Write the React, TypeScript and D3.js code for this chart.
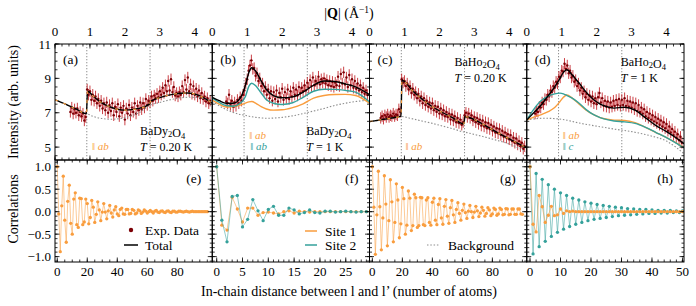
import React from "react";
import * as d3 from "d3";

const FONT = "'Liberation Serif', 'Times New Roman', serif";
const ORANGE = "#f99d3e";
const TEAL = "#35a19b";
const RED = "#7c0006";
const RED_BAR = "#bf161d";
const GRAY = "#8e8e8e";

const LEFT = 55;
const PW = 157.25;
const TOP0 = 44;
const MID = 160;
const BOT1 = 262;

// measured intensities, one value every 0.04 Å^-1
const Q_STEP = 0.04;

// (a) BaDy2O4, T = 0.20 K
const qStartA = 0.44;
const expA = [
  7.05, 7.3, 6.95, 7.2, 7.0, 7.25, 6.85, 7.05, 6.8, 6.95,
  6.55, 6.75, 8.35, 8.05, 8.25, 7.75, 8.05, 7.7, 7.95, 7.55,
  7.8, 7.4, 7.7, 7.25, 7.55, 7.15, 7.6, 7.0, 7.45, 7.1,
  7.55, 6.85, 7.35, 7.05, 7.5, 6.8, 7.3, 7.0, 7.4, 6.6,
  7.25, 6.95, 7.45, 6.85, 7.3, 7.05, 7.55, 6.95, 7.4, 7.15,
  7.6, 7.2, 7.55, 7.3, 7.8, 7.45, 7.7, 7.6, 7.95, 7.7,
  8.0, 7.85, 8.1, 7.9, 8.25, 8.05, 8.45, 8.15, 8.6, 8.25,
  8.85, 8.3, 8.95, 8.2, 8.5, 8.0, 8.15, 7.95, 8.2, 8.05,
  8.55, 8.2, 8.9, 8.35, 9.05, 8.25, 8.65, 8.1, 8.55, 8.05,
  8.4, 7.95, 8.3, 7.85, 8.15, 7.8, 7.95, 7.65, 7.85, 7.55,
  7.7,
];
const qCurveA = [0, 0.3, 0.6, 0.9, 0.93, 1.1, 1.3, 1.6, 2.0, 2.4, 2.7, 2.73, 3.0, 3.4, 3.8, 4.1, 4.5];
const totalA = [7.75, 7.5, 7.22, 6.95, 8.25, 7.95, 7.62, 7.32, 7.15, 7.25, 7.5, 7.65, 7.88, 8.08, 8.15, 8.02, 7.55];
const bgA = [7.75, 7.5, 7.22, 6.95, 6.93, 6.78, 6.68, 6.62, 6.72, 7.0, 7.42, 7.45, 7.6, 7.8, 7.9, 7.88, 7.7];

// (b) BaDy2O4, T = 1 K
const qStartB = 0.4;
const expB = [
  7.65, 7.55, 8.05, 7.45, 7.7, 7.35, 7.6, 7.4, 7.75, 7.55,
  7.9, 7.7, 8.05, 8.3, 8.7, 8.95, 9.45, 9.75, 10.05, 9.55,
  9.6, 9.15, 9.3, 8.85, 9.0, 8.55, 8.7, 8.25, 8.5, 8.05,
  8.35, 7.85, 8.25, 7.7, 8.2, 7.8, 8.3, 7.65, 8.15, 7.9,
  8.4, 7.75, 8.2, 7.85, 8.35, 7.8, 8.25, 7.95, 8.45, 8.05,
  8.35, 8.0, 8.5, 8.15, 8.45, 8.25, 8.6, 8.3, 8.75, 8.45,
  8.9, 8.55, 9.05, 8.6, 8.85, 8.7, 9.1, 8.65, 8.95, 8.75,
  9.0, 8.7, 8.9, 8.6, 8.85, 8.55, 8.8, 8.5, 8.75, 8.6,
  9.1, 8.55, 9.25, 8.7, 9.35, 8.65, 9.05, 8.5, 9.2, 8.6,
  8.95, 8.45, 8.85, 8.4, 8.7, 8.3, 8.6, 8.2, 8.45, 8.1,
  8.3, 8.05,
];
const qCurveB = [0, 0.2, 0.4, 0.6, 0.8, 0.95, 1.05, 1.13, 1.25, 1.4, 1.55, 1.75, 2.0, 2.3, 2.6, 2.9, 3.2, 3.5, 3.8, 4.1, 4.5];
const totalB = [7.9, 7.7, 7.55, 7.55, 7.85, 8.6, 9.35, 9.62, 9.4, 8.85, 8.35, 8.0, 7.87, 7.92, 8.2, 8.6, 8.85, 8.82, 8.68, 8.5, 8.05];
const site1B = [7.74, 7.5, 7.33, 7.36, 7.45, 7.56, 7.63, 7.65, 7.55, 7.35, 7.22, 7.15, 7.17, 7.3, 7.52, 7.85, 8.0, 8.06, 8.07, 8.0, 7.55];
const site2B = [7.85, 7.6, 7.42, 7.38, 7.55, 7.95, 8.55, 8.72, 8.55, 8.15, 7.75, 7.55, 7.48, 7.58, 7.9, 8.25, 8.37, 8.36, 8.3, 8.2, 7.63];
const bgB = [7.65, 7.4, 7.18, 7.02, 6.9, 6.85, 6.8, 6.77, 6.73, 6.7, 6.68, 6.69, 6.73, 6.82, 6.95, 7.1, 7.25, 7.42, 7.55, 7.65, 7.74];

// (c) BaHo2O4, T = 0.20 K
const qStartC = 0.32;
const expC = [
  6.7, 6.8, 6.65, 6.85, 6.75, 6.9, 6.75, 6.85, 6.8, 6.95,
  6.8, 6.9, 6.85, 7.2, 7.05, 8.95, 8.75, 8.85, 8.55, 8.7,
  8.35, 8.55, 8.15, 8.4, 8.05, 8.2, 7.85, 8.1, 7.7, 7.95,
  7.55, 7.85, 7.45, 7.7, 7.35, 7.6, 7.25, 7.55, 7.15, 7.4,
  7.05, 7.35, 6.95, 7.25, 6.9, 7.15, 6.8, 7.05, 6.75, 6.95,
  6.6, 6.9, 6.55, 6.8, 6.45, 6.7, 6.4, 6.6, 6.3, 6.45,
  6.85, 7.0, 6.75, 6.95, 6.7, 6.85, 6.55, 6.75, 6.45, 6.7,
  6.35, 6.6, 6.25, 6.55, 6.2, 6.45, 6.1, 6.4, 6.05, 6.3,
  5.95, 6.2, 5.85, 6.1, 5.8, 6.05, 5.7, 5.95, 5.6, 5.85,
  5.55, 5.75, 5.45, 5.7, 5.35, 5.55, 5.25, 5.5, 5.15, 5.35,
  5.05, 5.25, 4.9, 5.05,
];
const qCurveC = [0, 0.3, 0.6, 0.9, 0.93, 1.0, 1.2, 1.5, 1.8, 2.1, 2.4, 2.7, 2.73, 2.95, 3.2, 3.6, 4.0, 4.5];
const totalC = [6.48, 6.58, 6.68, 6.8, 8.9, 8.82, 8.35, 7.8, 7.35, 7.0, 6.68, 6.35, 6.78, 6.65, 6.38, 5.92, 5.48, 4.95];
const bgC = [6.48, 6.58, 6.68, 6.78, 6.78, 6.76, 6.66, 6.52, 6.38, 6.22, 6.06, 5.88, 5.87, 5.76, 5.64, 5.42, 5.18, 4.7];

// (d) BaHo2O4, T = 1 K
const qStartD = 0.24;
const expD = [
  6.95, 7.1, 7.05, 7.35, 7.3, 7.6, 7.5, 7.8, 7.75, 8.05,
  7.95, 8.3, 8.2, 8.55, 8.45, 8.8, 8.7, 9.1, 9.05, 9.45,
  9.4, 9.85, 9.55, 9.75, 9.3, 9.45, 9.05, 9.15, 8.8, 8.9,
  8.55, 8.7, 8.3, 8.45, 8.1, 8.25, 7.9, 8.1, 7.75, 8.0,
  7.65, 7.95, 7.55, 7.85, 7.5, 7.9, 8.15, 7.6, 7.85, 7.4,
  7.7, 7.35, 7.65, 7.3, 7.6, 7.35, 7.7, 7.4, 7.75, 7.45,
  7.8, 7.4, 7.75, 7.45, 7.85, 7.4, 7.7, 7.35, 7.65, 7.3,
  7.6, 7.2, 7.55, 7.1, 7.45, 7.05, 7.3, 6.95, 7.2, 6.8,
  7.05, 6.7, 6.95, 6.6, 6.85, 6.5, 6.75, 6.4, 6.65, 6.3,
  6.55, 6.2, 6.45, 6.1, 6.35, 5.95, 6.2, 5.85, 6.05, 5.7,
  5.9, 5.55, 5.75, 5.4, 5.6, 5.25,
];
const qCurveD = [0, 0.2, 0.4, 0.6, 0.8, 0.95, 1.05, 1.15, 1.3, 1.5, 1.7, 1.9, 2.1, 2.3, 2.5, 2.8, 3.1, 3.4, 3.7, 4.0, 4.3, 4.5];
const totalD = [6.58, 7.0, 7.42, 7.95, 8.5, 9.0, 9.35, 9.5, 9.2, 8.72, 8.2, 7.78, 7.5, 7.35, 7.27, 7.32, 7.15, 6.7, 6.25, 5.9, 5.5, 5.2];
const site1D = [6.58, 6.75, 6.88, 7.05, 7.3, 7.65, 7.9, 8.03, 7.85, 7.5, 7.15, 6.9, 6.72, 6.62, 6.57, 6.55, 6.42, 6.15, 5.85, 5.55, 5.22, 4.98];
const site2D = [6.58, 7.2, 7.68, 7.95, 8.1, 8.14, 8.1, 8.0, 7.85, 7.55, 7.18, 6.9, 6.72, 6.6, 6.52, 6.47, 6.38, 6.15, 5.85, 5.55, 5.2, 4.95];
const bgQD = [0, 0.5, 1.0, 1.5, 2.0, 2.5, 3.0, 3.5, 4.0, 4.5];
const bgD = [6.58, 6.68, 6.62, 6.4, 6.22, 6.05, 5.9, 5.68, 5.35, 4.62];

// positions marked by vertical dotted lines
const markQ = [0.91, 2.72];

// correlations vs in-chain distance (index = number of atoms)
const corrE = [
  1.0, -0.05, -0.89, 0.13, 0.79, -0.19, -0.68, 0.23, 0.59, -0.26,
  -0.5, 0.28, 0.42, -0.29, -0.35, 0.3, 0.29, -0.29, -0.23, 0.28,
  0.18, -0.27, -0.13, 0.25, 0.1, -0.24, -0.06, 0.22, 0.04, -0.2,
  -0.01, 0.18, -0.01, -0.16, 0.02, 0.14, -0.03, -0.12, 0.04, 0.11,
  -0.05, -0.09, 0.05, 0.08, -0.05, -0.06, 0.05, 0.05, -0.05, -0.04,
  0.05, 0.03, -0.05, -0.03, 0.04, 0.02, -0.04, -0.01, 0.04, 0.01,
  -0.03, 0.0, 0.03, 0.0, -0.03, 0.01, 0.03, -0.01, -0.02, 0.01,
  0.02, -0.01, -0.02, 0.01, 0.02, -0.01, -0.02, 0.01, 0.01, -0.01,
  -0.01, 0.01, 0.01, 0.0, -0.01, 0.0, 0.01, 0.0, -0.01, 0.0,
  0.01, 0.0, 0.0, 0.0, 0.0, 0.0, 0.0, 0.0, 0.0, 0.0,
  0.0,
];
const corrF1 = [
  1.0, -0.3, -0.41, 0.32, 0.06, -0.23, 0.08, 0.08, -0.08, -0.02,
  -0.01, -0.03, -0.05, 0.0, 0.02, -0.03, 0.01, 0.0, -0.01, 0.0,
  0.0, 0.0, 0.0, 0.0, 0.0, 0.0, 0.0, 0.0, 0.0, 0.0,
];
const corrF2 = [
  1.0, -0.19, -0.67, 0.34, 0.36, -0.34, -0.17, 0.27, 0.02, -0.2,
  0.05, 0.12, -0.08, -0.08, 0.08, 0.04, -0.05, -0.02, 0.04, -0.02,
  -0.03, 0.01, 0.01, -0.01, 0.0, 0.01, 0.0, -0.01, 0.0, 0.0,
];
const corrG = [
  1.0, 0.1, -0.95, -0.07, 0.9, 0.11, -0.85, -0.14, 0.8, 0.17,
  -0.76, -0.2, 0.71, 0.22, -0.67, -0.24, 0.62, 0.26, -0.58, -0.27,
  0.54, 0.29, -0.5, -0.3, 0.46, 0.3, -0.42, -0.31, 0.39, 0.31,
  -0.35, -0.31, 0.32, 0.31, -0.29, -0.31, 0.26, 0.31, -0.24, -0.3,
  0.21, 0.3, -0.19, -0.29, 0.16, 0.29, -0.14, -0.28, 0.12, 0.27,
  -0.1, -0.26, 0.09, 0.25, -0.07, -0.24, 0.05, 0.2, -0.04, -0.19,
  0.03, 0.17, -0.02, -0.15, 0.01, 0.14, 0.0, -0.13, -0.01, 0.12,
  0.02, -0.11, -0.03, 0.1, 0.03, -0.1, -0.04, 0.09, 0.04, -0.09,
  -0.05, 0.08, 0.05, -0.08, -0.05, 0.08, 0.05, -0.07, -0.06, 0.07,
  0.06, -0.07, -0.06, 0.06, 0.06, -0.06, -0.06, 0.06, 0.06, -0.05,
  -0.06,
];
const corrH1 = [
  1.0, -0.28, -0.45, 0.36, 0.11, -0.24, -0.08, 0.12, -0.09, -0.07,
  0.06, -0.04, 0.02, 0.0, 0.01, 0.0, 0.0, 0.0, 0.0, 0.0,
  0.0, 0.0, 0.0, 0.0, 0.0, 0.0, 0.0, 0.0, 0.0, 0.0,
  0.0, 0.0, 0.0, 0.0, 0.0, 0.0, 0.0, 0.0, 0.0, 0.0,
  0.0, 0.0, 0.0, 0.0, 0.0, 0.0, 0.0, 0.0, 0.0, 0.0,
  0.0,
];
const corrH2 = [
  1.0, -0.94, 0.85, -0.78, 0.72, -0.66, 0.6, -0.55, 0.5, -0.46,
  0.42, -0.39, 0.36, -0.33, 0.3, -0.28, 0.26, -0.24, 0.22, -0.2,
  0.19, -0.17, 0.16, -0.15, 0.14, -0.13, 0.12, -0.11, 0.1, -0.09,
  0.09, -0.08, 0.07, -0.07, 0.06, -0.06, 0.05, -0.05, 0.05, -0.04,
  0.04, -0.04, 0.03, -0.03, 0.03, -0.03, 0.03, -0.02, 0.02, -0.02,
  0.02,
];

// axis ticks
const qMajor = [0, 1, 2, 3, 4];
const qMinor = d3.range(0, 4.5, 0.2);
const intMajor = [5, 7, 9, 11];
const intMinor = d3.range(4.5, 11.01, 0.5);
const corrMajor = [-1, -0.5, 0, 0.5, 1];
const corrMinor = d3.range(-11, 12).map((v) => v / 10);

const TICK_FS = 13;
const NOTE_FS = 12;
const LEG_FS = 13.5;
const AXIS_FS = 14;

type Scale = d3.ScaleLinear<number, number>;

function Ticks({ x, y, xMaj, xMin, yMaj, yMin }: { x: Scale; y: Scale; xMaj: number[]; xMin: number[]; yMaj: number[]; yMin: number[] }) {
  const [xa, xb] = x.range();
  const [yb, ya] = y.range();
  const [dx0, dx1] = x.domain();
  const [dy0, dy1] = y.domain();
  const lines: JSX.Element[] = [];
  const addX = (v: number, L: number, k: string) => {
    if (v < dx0 || v > dx1) return;
    const p = x(v);
    lines.push(<line key={"xb" + k} x1={p} x2={p} y1={yb} y2={yb - L} />);
    lines.push(<line key={"xt" + k} x1={p} x2={p} y1={ya} y2={ya + L} />);
  };
  const addY = (v: number, L: number, k: string) => {
    if (v < dy0 || v > dy1) return;
    const p = y(v);
    lines.push(<line key={"yl" + k} x1={xa} x2={xa + L} y1={p} y2={p} />);
    lines.push(<line key={"yr" + k} x1={xb} x2={xb - L} y1={p} y2={p} />);
  };
  xMin.forEach((v, i) => addX(v, 2.5, "m" + i));
  xMaj.forEach((v, i) => addX(v, 4.5, "M" + i));
  yMin.forEach((v, i) => addY(v, 2.5, "m" + i));
  yMaj.forEach((v, i) => addY(v, 4.5, "M" + i));
  return <g stroke="#000" strokeWidth={0.8}>{lines}</g>;
}

function Sub({ t }: { t: string }) {
  return (
    <>
      <tspan dy={2} fontSize={8.5}>{t}</tspan>
      <tspan dy={-2}></tspan>
    </>
  );
}

interface TopCurve { q: number[]; v: number[]; color: string; w: number; dash?: string }

function TopPanel({ i, qStart, exp, curves, children }: { i: number; qStart: number; exp: number[]; curves: TopCurve[]; children?: React.ReactNode }) {
  const x0 = LEFT + i * PW;
  const x = d3.scaleLinear().domain([0, 4.5]).range([x0, x0 + PW]);
  const y = d3.scaleLinear().domain([4.25, 11]).range([MID, TOP0]);
  const clip = "clipTop" + i;
  const line = (q: number[], v: number[]) =>
    d3.line<number>().x((_, k) => x(q[k])).y((d) => y(d)).curve(d3.curveMonotoneX)(v) || "";
  return (
    <g>
      <clipPath id={clip}><rect x={x0} y={TOP0} width={PW} height={MID - TOP0} /></clipPath>
      <g clipPath={`url(#${clip})`}>
        {markQ.map((m) => (
          <line key={m} x1={x(m)} x2={x(m)} y1={TOP0} y2={MID} stroke={GRAY} strokeWidth={1} strokeDasharray="1.3 1.7" />
        ))}
        <g stroke={RED_BAR} strokeWidth={0.9} opacity={0.9}>
          {exp.map((v, k) => {
            const px = x(qStart + k * Q_STEP);
            return <line key={k} x1={px} x2={px} y1={y(v - 0.33)} y2={y(v + 0.33)} />;
          })}
        </g>
        <g fill={RED}>
          {exp.map((v, k) => <circle key={k} cx={x(qStart + k * Q_STEP)} cy={y(v)} r={1.2} />)}
        </g>
        {curves.map((c, k) => (
          <path key={k} d={line(c.q, c.v)} fill="none" stroke={c.color} strokeWidth={c.w} strokeDasharray={c.dash} />
        ))}
      </g>
      <rect x={x0} y={TOP0} width={PW} height={MID - TOP0} fill="none" stroke="#000" strokeWidth={1} />
      <Ticks x={x} y={y} xMaj={qMajor} xMin={qMinor} yMaj={intMajor} yMin={intMinor} />
      <g fontSize={TICK_FS} textAnchor="middle">
        {qMajor.map((v) => <text key={v} x={x(v)} y={36}>{v}</text>)}
      </g>
      {i === 0 && (
        <g fontSize={TICK_FS} textAnchor="end">
          {intMajor.map((v) => <text key={v} x={x0 - 4} y={y(v) + 4.5}>{v}</text>)}
        </g>
      )}
      {children}
    </g>
  );
}

interface CorrSeries { v: number[]; color: string }

function CorrPanel({ i, domain, xMaj, xMin, series, tag, children }: { i: number; domain: [number, number]; xMaj: number[]; xMin: number[]; series: CorrSeries[]; tag: string; children?: React.ReactNode }) {
  const x0 = LEFT + i * PW;
  const x = d3.scaleLinear().domain(domain).range([x0, x0 + PW]);
  const y = d3.scaleLinear().domain([-1.12, 1.15]).range([BOT1, MID]);
  const clip = "clipBot" + i;
  return (
    <g>
      <clipPath id={clip}><rect x={x0} y={MID} width={PW} height={BOT1 - MID} /></clipPath>
      <g clipPath={`url(#${clip})`}>
        {series.map((s, k) => (
          <g key={k}>
            <path
              d={d3.line<number>().x((_, n) => x(n)).y((d) => y(d))(s.v) || ""}
              fill="none"
              stroke={s.color}
              strokeWidth={0.9}
              opacity={0.6}
            />
            {s.v.map((d, n) => <circle key={n} cx={x(n)} cy={y(d)} r={1.65} fill={s.color} />)}
          </g>
        ))}
      </g>
      <rect x={x0} y={MID} width={PW} height={BOT1 - MID} fill="none" stroke="#000" strokeWidth={1} />
      <Ticks x={x} y={y} xMaj={xMaj} xMin={xMin} yMaj={corrMajor} yMin={corrMinor} />
      <g fontSize={TICK_FS} textAnchor="middle">
        {xMaj.map((v) => <text key={v} x={x(v)} y={276}>{v}</text>)}
      </g>
      {i === 0 && (
        <g fontSize={TICK_FS} textAnchor="end">
          {corrMajor.map((v) => (
            <text key={v} x={x0 - 4} y={y(v) + 4.5}>{d3.format(".1f")(v).replace("-", "\u2212")}</text>
          ))}
        </g>
      )}
      <text x={x0 + PW - 11} y={183} fontSize={LEG_FS} textAnchor="end">{tag}</text>
      {children}
    </g>
  );
}

export default function App() {
  const L = (i: number) => LEFT + i * PW;
  return (
    <svg width={696} height={306} fontFamily={FONT} style={{ position: "absolute", left: 0, top: 0, display: "block" }}>
      <rect width={696} height={306} fill="#fff" />

      <TopPanel i={0} qStart={qStartA} exp={expA} curves={[
        { q: qCurveA, v: bgA, color: GRAY, w: 1.1, dash: "1.5 1.8" },
        { q: qCurveA, v: totalA, color: "#000", w: 1.4 },
        { q: qCurveA, v: totalA, color: ORANGE, w: 1.2, dash: "3 6" },
      ]}>
        <text x={L(0) + 8} y={64} fontSize={LEG_FS}>(a)</text>
        <text x={L(0) + 37} y={150} fontSize={11} fill={ORANGE}>‖ <tspan fontStyle="italic">ab</tspan></text>
        <text x={L(0) + 85} y={135} fontSize={NOTE_FS}>BaDy<Sub t="2" />O<Sub t="4" /></text>
        <text x={L(0) + 85} y={151} fontSize={NOTE_FS}><tspan fontStyle="italic">T</tspan> = 0.20 K</text>
      </TopPanel>

      <TopPanel i={1} qStart={qStartB} exp={expB} curves={[
        { q: qCurveB, v: bgB, color: GRAY, w: 1.1, dash: "1.5 1.8" },
        { q: qCurveB, v: site1B, color: ORANGE, w: 1.4 },
        { q: qCurveB, v: site2B, color: TEAL, w: 1.4 },
        { q: qCurveB, v: totalB, color: "#000", w: 1.4 },
      ]}>
        <text x={L(1) + 8} y={64} fontSize={LEG_FS}>(b)</text>
        <text x={L(1) + 37} y={139} fontSize={11} fill={ORANGE}>‖ <tspan fontStyle="italic">ab</tspan></text>
        <text x={L(1) + 38} y={150} fontSize={11} fill={TEAL}>‖ <tspan fontStyle="italic">ab</tspan></text>
        <text x={L(1) + 94} y={135} fontSize={NOTE_FS}>BaDy<Sub t="2" />O<Sub t="4" /></text>
        <text x={L(1) + 94} y={151} fontSize={NOTE_FS}><tspan fontStyle="italic">T</tspan> = 1 K</text>
      </TopPanel>

      <TopPanel i={2} qStart={qStartC} exp={expC} curves={[
        { q: qCurveC, v: bgC, color: GRAY, w: 1.1, dash: "1.5 1.8" },
        { q: qCurveC, v: totalC, color: "#000", w: 1.4 },
        { q: qCurveC, v: totalC, color: ORANGE, w: 1.2, dash: "3 6" },
      ]}>
        <text x={L(2) + 8} y={64} fontSize={LEG_FS}>(c)</text>
        <text x={L(2) + 36} y={150} fontSize={11} fill={ORANGE}>‖ <tspan fontStyle="italic">ab</tspan></text>
        <text x={L(2) + 85} y={66} fontSize={NOTE_FS}>BaHo<Sub t="2" />O<Sub t="4" /></text>
        <text x={L(2) + 85} y={82} fontSize={NOTE_FS}><tspan fontStyle="italic">T</tspan> = 0.20 K</text>
      </TopPanel>

      <TopPanel i={3} qStart={qStartD} exp={expD} curves={[
        { q: bgQD, v: bgD, color: GRAY, w: 1.1, dash: "1.5 1.8" },
        { q: qCurveD, v: site1D, color: ORANGE, w: 1.4 },
        { q: qCurveD, v: site2D, color: TEAL, w: 1.4 },
        { q: qCurveD, v: totalD, color: "#000", w: 1.4 },
      ]}>
        <text x={L(3) + 8} y={64} fontSize={LEG_FS}>(d)</text>
        <text x={L(3) + 36} y={139} fontSize={11} fill={ORANGE}>‖ <tspan fontStyle="italic">ab</tspan></text>
        <text x={L(3) + 36} y={150} fontSize={11} fill={TEAL}>‖ <tspan fontStyle="italic">c</tspan></text>
        <text x={L(3) + 94} y={66} fontSize={NOTE_FS}>BaHo<Sub t="2" />O<Sub t="4" /></text>
        <text x={L(3) + 94} y={82} fontSize={NOTE_FS}><tspan fontStyle="italic">T</tspan> = 1 K</text>
      </TopPanel>

      <CorrPanel i={0} domain={[-1.5, 103.3]} xMaj={[0, 20, 40, 60, 80]} xMin={d3.range(0, 101, 5)} tag="(e)"
        series={[{ v: corrE, color: ORANGE }]}>
        <circle cx={131} cy={230} r={2.2} fill={RED} />
        <text x={145} y={234.5} fontSize={LEG_FS}>Exp. Data</text>
        <line x1={124} x2={138} y1={245} y2={245} stroke="#000" strokeWidth={1.5} />
        <text x={145} y={249.5} fontSize={LEG_FS}>Total</text>
      </CorrPanel>

      <CorrPanel i={1} domain={[-0.86, 29.6]} xMaj={[0, 5, 10, 15, 20, 25]} xMin={d3.range(0, 30, 1)} tag="(f)"
        series={[{ v: corrF1, color: ORANGE }, { v: corrF2, color: TEAL }]}>
        <line x1={305} x2={317} y1={231} y2={231} stroke={ORANGE} strokeWidth={1.5} />
        <text x={325} y={235.5} fontSize={LEG_FS}>Site 1</text>
        <line x1={305} x2={317} y1={245} y2={245} stroke={TEAL} strokeWidth={1.5} />
        <text x={325} y={249.5} fontSize={LEG_FS}>Site 2</text>
      </CorrPanel>

      <CorrPanel i={2} domain={[-1.9, 102.9]} xMaj={[0, 20, 40, 60, 80]} xMin={d3.range(0, 101, 5)} tag="(g)"
        series={[{ v: corrG, color: ORANGE }]}>
        <line x1={427} x2={439} y1={245} y2={245} stroke={GRAY} strokeWidth={1.1} strokeDasharray="1.5 1.8" />
        <text x={448} y={249.5} fontSize={LEG_FS}>Background</text>
      </CorrPanel>

      <CorrPanel i={3} domain={[-1.07, 50.5]} xMaj={[0, 10, 20, 30, 40, 50]} xMin={d3.range(0, 51, 2)} tag="(h)"
        series={[{ v: corrH2, color: TEAL }, { v: corrH1, color: ORANGE }]} />

      <text x={349} y={18} fontSize={AXIS_FS} textAnchor="middle">
        |<tspan fontWeight="bold">Q</tspan>| (Å<tspan dy={-5} fontSize={9.5}>−1</tspan><tspan dy={5}>)</tspan>
      </text>
      <text transform="rotate(-90)" x={-102} y={18} fontSize={AXIS_FS} textAnchor="middle">Intensity (arb. units)</text>
      <text transform="rotate(-90)" x={-209} y={18} fontSize={AXIS_FS} textAnchor="middle">Correlations</text>
      <text x={349} y={296} fontSize={AXIS_FS} textAnchor="middle">In-chain distance between l and l’ (number of atoms)</text>
    </svg>
  );
}
